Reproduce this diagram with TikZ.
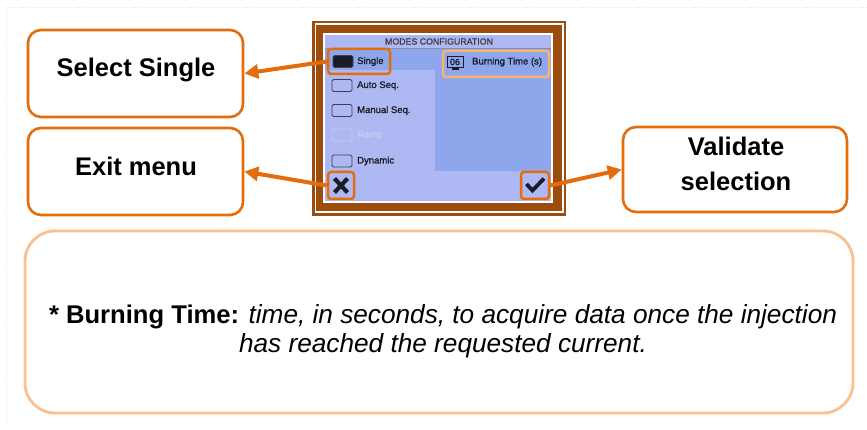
\documentclass[tikz,border=0pt]{standalone}
\usepackage{fontspec}
\setmainfont{Liberation Sans}
\newfontfamily\lcdfont[FakeBold=1.3]{Liberation Sans}
\usetikzlibrary{arrows.meta}
\definecolor{calloutorange}{RGB}{228,108,10}
\definecolor{notepeach}{RGB}{250,192,144}
\definecolor{burnedge}{RGB}{246,180,118}
\definecolor{framebrown}{RGB}{156,76,12}
\definecolor{lcdlight}{RGB}{174,184,242}
\definecolor{lcdblue}{RGB}{142,166,236}
\definecolor{lcdink}{RGB}{28,28,38}
\definecolor{lcdfaint}{RGB}{198,205,246}
\definecolor{boxedge}{RGB}{60,64,92}
\begin{document}
\begin{tikzpicture}[x=1pt,y=-1pt,
  callout/.style={draw=calloutorange,line width=2.6pt,rounded corners=13pt,fill=white,inner sep=0pt},
  calltext/.style={font=\fontsize{25.5}{30}\selectfont\bfseries,anchor=base,inner sep=0pt},
  notetext/.style={font=\fontsize{25.6}{29}\selectfont,anchor=base,inner sep=0pt},
  pointer/.style={draw=calloutorange,line width=4pt,-{Triangle[length=14pt,width=14pt]}},
  hilite/.style={draw=calloutorange,line width=2.5pt,rounded corners=3pt,inner sep=0pt},
  tickbox/.style={draw=boxedge,line width=0.9pt,rounded corners=1.5pt,minimum width=20pt,minimum height=12pt,inner sep=0pt},
  lcdtext/.style={font=\lcdfont\fontsize{9.5}{11}\selectfont,text=lcdink,anchor=west,inner sep=0pt,text height=7pt,text depth=2pt}
]
\useasboundingbox (0,0) rectangle (867,430);
\fill[white] (0,0) rectangle (867,430);
% faint page outline
\draw[gray!22,dotted,line width=0.8pt] (867,7) -- (6,7) -- (6,425);

% device frame
\fill[framebrown] (312,21) rectangle (566,216);
\fill[white] (314.5,23.5) rectangle (563.5,213.5);
\fill[framebrown] (316,25.5) rectangle (562,211);
\fill[white] (323,33) rectangle (553,203.5);
\fill[lcdlight] (325,35) rectangle (551,201.5);

% screen panels
\fill[lcdblue] (325,48) rectangle (551,70);
\fill[lcdblue] (435,48) rectangle (551,171);
\draw[boxedge!60,line width=0.6pt] (325,48) -- (551,48);
\node[font=\lcdfont\fontsize{8.8}{10}\selectfont,text=lcdink!85,inner sep=0pt] (title) at (439,41.5) {MODES CONFIGURATION};

% mode list
\node[tickbox,fill=lcdink] (cb1) at (343,61.5) {};
\node[lcdtext] (t1) at (357,61.5) {Single};
\node[tickbox] (cb2) at (342,85.5) {};
\node[lcdtext] (t2) at (357,85.5) {Auto Seq.};
\node[tickbox] (cb3) at (342,110.5) {};
\node[lcdtext] (t3) at (357,110.5) {Manual Seq.};
\node[tickbox,draw=lcdfaint] (cb4) at (342,135) {};
\node[lcdtext,text=lcdfaint] (t4) at (357,135) {Ramp};
\node[tickbox] (cb5) at (342,161) {};
\node[lcdtext] (t5) at (357,161) {Dynamic};

% burning time field
\node[draw=lcdink,line width=0.7pt,inner sep=0pt,minimum width=16pt,minimum height=10.5pt,font=\lcdfont\fontsize{9}{10}\selectfont,text=lcdink] (burnval) at (455,62) {06};
\fill[lcdink] (451.5,68.5) rectangle (458.5,70.5);
\node[lcdtext] (burntxt) at (472,62) {Burning Time (s)};
\node[draw=burnedge,line width=2.5pt,rounded corners=3pt,minimum width=106pt,minimum height=26pt,inner sep=0pt] (burnhl) at (496,64) {};

% cancel and confirm buttons
\draw[lcdink,line width=4.2pt] (334.5,178.5) -- (347.5,192.5) (347.5,178.5) -- (334.5,192.5);
\draw[lcdink,line width=3.8pt,line join=miter] (526.5,184) -- (532.5,190.5) -- (544,178.5);

% highlights on the screen
\node[hilite,minimum width=62pt,minimum height=25pt] (sglhl) at (359,61.5) {};
\node[hilite,minimum width=26pt,minimum height=27pt] (xhl) at (341,185.5) {};
\node[hilite,minimum width=28pt,minimum height=27pt] (chkhl) at (535,185.5) {};

% callouts
\node[callout,minimum width=215pt,minimum height=87pt] (sel) at (135.5,73.5) {};
\node[calltext] (seltxt) at (136,77) {Select Single};
\node[callout,minimum width=215pt,minimum height=87pt] (exit) at (135.5,171.5) {};
\node[calltext] (exittxt) at (136,176) {Exit menu};
\node[callout,minimum width=224pt,minimum height=85pt] (val) at (735,169.5) {};
\node[calltext] (valtxt1) at (736,156) {Validate};
\node[calltext] (valtxt2) at (736,191) {selection};

% footnote box
\node[draw=notepeach,line width=2.8pt,rounded corners=30pt,minimum width=828pt,minimum height=182pt,inner sep=0pt] (note) at (439,322) {};
\node[notetext] (note1) at (443,323) {\textbf{* Burning Time:} {\fontsize{26.2}{29}\selectfont\itshape time, in seconds, to acquire data once the injection}};
\node[notetext] (note2) at (443,352) {\fontsize{26.2}{29}\selectfont\itshape has reached the requested current.};

% pointers
\draw[pointer] (sglhl.west) -- (sel.east);
\draw[pointer] (xhl.west) -- (exit.east);
\draw[pointer] (chkhl.east) -- (val.west);
\end{tikzpicture}
\end{document}
